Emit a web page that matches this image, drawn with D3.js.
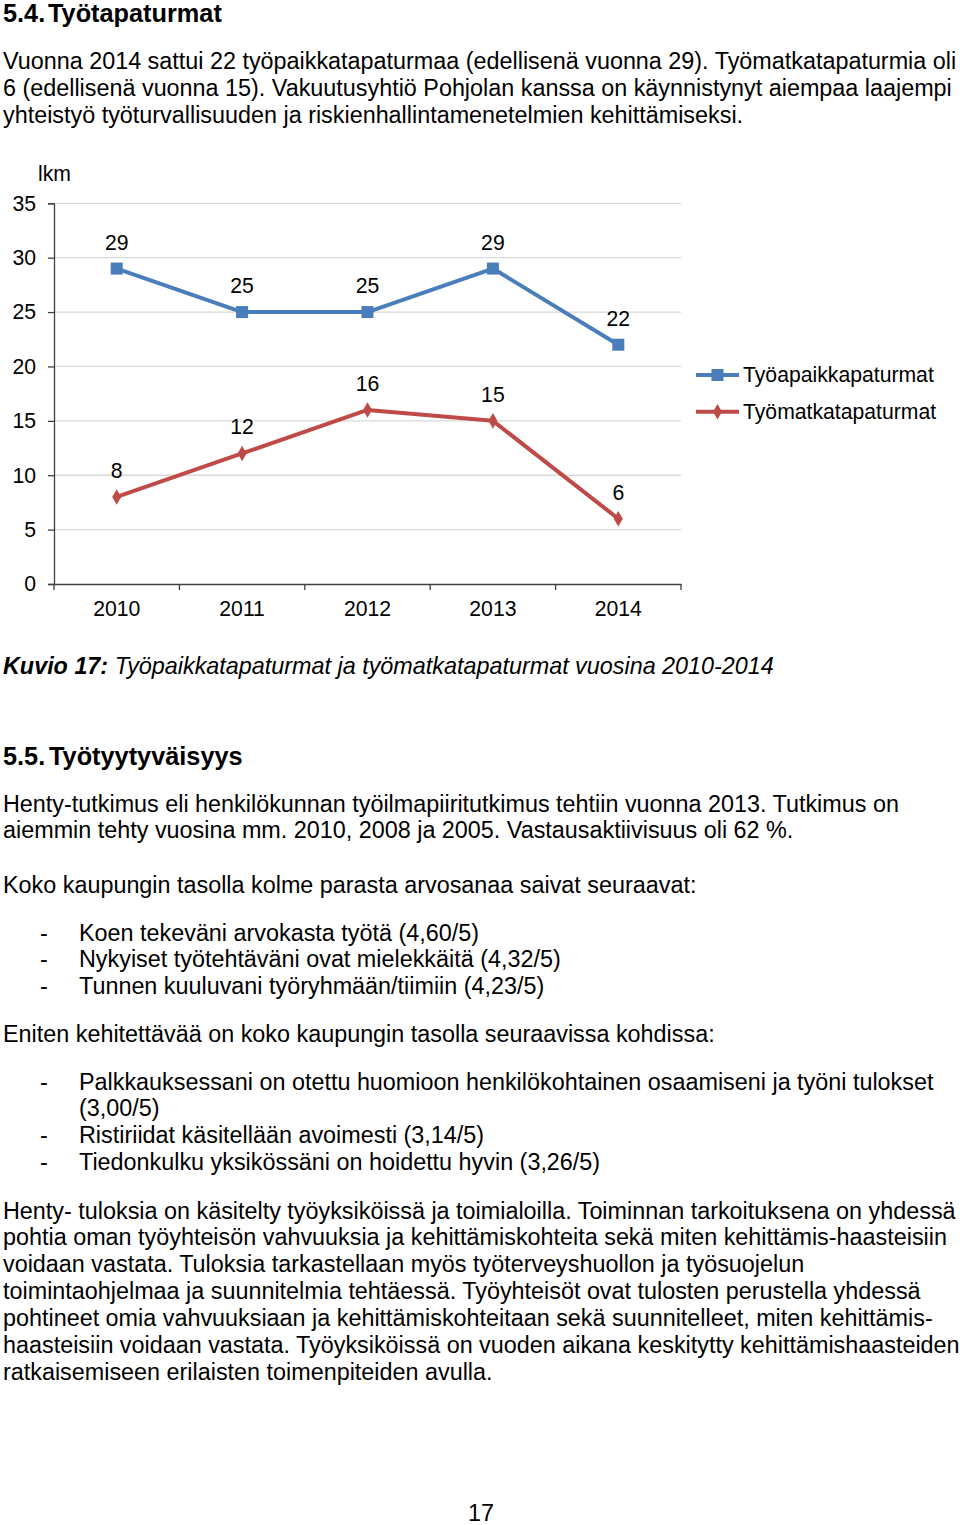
<!DOCTYPE html>
<html>
<head>
<meta charset="utf-8">
<script src="https://cdn.jsdelivr.net/npm/d3@7"></script>
<style>
  html, body { margin: 0; padding: 0; background: #fff; }
  svg { display: block; font-family: "Liberation Sans", Arial, sans-serif; }
</style>
</head>
<body>
<svg id="page" width="960" height="1525"></svg>
<script>
// ---- data ----
const years = ["2010", "2011", "2012", "2013", "2014"];
const workplaceAccidents = [29, 25, 25, 29, 22];   // Työpaikkatapaturmat
const commuteAccidents = [8, 12, 16, 15, 6];        // Työmatkatapaturmat
const yTicks = [0, 5, 10, 15, 20, 25, 30, 35];
const seriesNames = ["Työapaikkapaturmat", "Työmatkatapaturmat"];
const yUnit = "lkm";

// ---- text content ----
const heading1 = ["5.4.", "Työtapaturmat"];
const para1 = [
  "Vuonna 2014 sattui 22 työpaikkatapaturmaa (edellisenä vuonna 29). Työmatkatapaturmia oli",
  "6 (edellisenä vuonna 15). Vakuutusyhtiö Pohjolan kanssa on käynnistynyt aiempaa laajempi",
  "yhteistyö työturvallisuuden ja riskienhallintamenetelmien kehittämiseksi."
];
const captionBold = "Kuvio 17:";
const captionRest = " Työpaikkatapaturmat ja työmatkatapaturmat vuosina 2010-2014";
const heading2 = ["5.5.", "Työtyytyväisyys"];
const para2 = [
  "Henty-tutkimus eli henkilökunnan työilmapiiritutkimus tehtiin vuonna 2013. Tutkimus on",
  "aiemmin tehty vuosina mm. 2010, 2008 ja 2005. Vastausaktiivisuus oli 62 %."
];
const para3 = "Koko kaupungin tasolla kolme parasta arvosanaa saivat seuraavat:";
const list1 = [
  "Koen tekeväni arvokasta työtä (4,60/5)",
  "Nykyiset työtehtäväni ovat mielekkäitä (4,32/5)",
  "Tunnen kuuluvani työryhmään/tiimiin (4,23/5)"
];
const para4 = "Eniten kehitettävää on koko kaupungin tasolla seuraavissa kohdissa:";
const list2 = [
  ["Palkkauksessani on otettu huomioon henkilökohtainen osaamiseni ja työni tulokset", "(3,00/5)"],
  ["Ristiriidat käsitellään avoimesti (3,14/5)"],
  ["Tiedonkulku yksikössäni on hoidettu hyvin (3,26/5)"]
];
const para5 = [
  "Henty- tuloksia on käsitelty työyksiköissä ja toimialoilla. Toiminnan tarkoituksena on yhdessä",
  "pohtia oman työyhteisön vahvuuksia ja kehittämiskohteita sekä miten kehittämis-haasteisiin",
  "voidaan vastata. Tuloksia tarkastellaan myös työterveyshuollon ja työsuojelun",
  "toimintaohjelmaa ja suunnitelmia tehtäessä. Työyhteisöt ovat tulosten perustella yhdessä",
  "pohtineet omia vahvuuksiaan ja kehittämiskohteitaan sekä suunnitelleet, miten kehittämis-",
  "haasteisiin voidaan vastata. Työyksiköissä on vuoden aikana keskitytty kehittämishaasteiden",
  "ratkaisemiseen erilaisten toimenpiteiden avulla."
];
const pageNumber = "17";

// ---- style ----
const BODY = 23.37, HEAD = 25.3, CHART = 21.2, LH = 26.9;
const TXT = "#000";
const BLUE = "#4A7EBB", RED = "#BE4B48";

const svg = d3.select("#page");

function line(txt, x, y, opts = {}) {
  return svg.append("text")
    .attr("x", x).attr("y", y)
    .attr("font-size", opts.size || BODY)
    .attr("font-weight", opts.weight || "normal")
    .attr("font-style", opts.style || "normal")
    .attr("text-anchor", opts.anchor || "start")
    .attr("fill", TXT)
    .text(txt);
}

// heading 5.4
line(heading1[0], 3, 22, { size: HEAD, weight: "bold" });
line(heading1[1], 48, 22, { size: HEAD, weight: "bold" });
para1.forEach((t, i) => line(t, 3, 69 + i * LH));

// ---- chart ----
const x = d3.scaleBand().domain(years).range([54, 681]);
const y = d3.scaleLinear().domain([0, 35]).range([584, 203.3]);
const chart = svg.append("g").attr("font-size", CHART);

// gridlines
chart.append("g").selectAll("line").data(yTicks.filter(d => d > 0)).join("line")
  .attr("x1", 54).attr("x2", 681)
  .attr("y1", d => y(d)).attr("y2", d => y(d))
  .attr("stroke", "#d9d9d9").attr("stroke-width", 1.3);

// y axis
const yAxis = chart.append("g").attr("transform", "translate(54,0)")
  .call(d3.axisLeft(y).tickValues(yTicks).tickSize(6).tickPadding(12).tickFormat(d3.format("d")));
yAxis.select(".domain").attr("stroke", "#404040").attr("stroke-width", 1.3);
yAxis.selectAll(".tick line").attr("stroke", "#404040").attr("stroke-width", 1.3);
yAxis.selectAll(".tick text").attr("font-size", CHART).attr("font-family", "Liberation Sans, Arial, sans-serif").attr("fill", TXT);

// x axis
const xAxis = chart.append("g").attr("transform", "translate(0,584)")
  .call(d3.axisBottom(x).tickSize(0).tickPadding(17));
xAxis.select(".domain").attr("stroke", "#404040").attr("stroke-width", 1.3);
xAxis.selectAll(".tick text").attr("font-size", CHART).attr("font-family", "Liberation Sans, Arial, sans-serif").attr("fill", TXT);
// category boundary ticks
const bounds = years.map(d => x(d)).concat([x(years[years.length - 1]) + x.bandwidth()]);
chart.append("g").selectAll("line").data(bounds).join("line")
  .attr("x1", d => d).attr("x2", d => d).attr("y1", 584).attr("y2", 590)
  .attr("stroke", "#404040").attr("stroke-width", 1.3);

// unit label
chart.append("text").attr("x", 38).attr("y", 181).attr("fill", TXT).text(yUnit);

const cx = d => x(d) + x.bandwidth() / 2;
const lineGen = d3.line().x(d => cx(d.year)).y(d => y(d.v));
const series = [
  { name: seriesNames[0], color: BLUE, shape: "square", values: years.map((yr, i) => ({ year: yr, v: workplaceAccidents[i] })) },
  { name: seriesNames[1], color: RED, shape: "diamond", values: years.map((yr, i) => ({ year: yr, v: commuteAccidents[i] })) }
];

function marker(g, shape, color, px, py) {
  if (shape === "square") {
    g.append("rect").attr("x", px - 6).attr("y", py - 6).attr("width", 12).attr("height", 12).attr("fill", color);
  } else {
    g.append("path").attr("d", d3.symbol(d3.symbolDiamond, 70)()).attr("transform", `translate(${px},${py})`).attr("fill", color);
  }
}

series.forEach(s => {
  const g = chart.append("g");
  g.append("path").datum(s.values).attr("d", lineGen)
    .attr("fill", "none").attr("stroke", s.color).attr("stroke-width", 4).attr("stroke-linejoin", "round");
  s.values.forEach(d => marker(g, s.shape, s.color, cx(d.year), y(d.v)));
  g.selectAll("text.lbl").data(s.values).join("text").attr("class", "lbl")
    .attr("x", d => cx(d.year)).attr("y", d => y(d.v) - 19)
    .attr("text-anchor", "middle").attr("fill", TXT).text(d => d.v);
});

// legend
const legendY = [375, 411.7];
series.forEach((s, i) => {
  const g = chart.append("g");
  g.append("line").attr("x1", 696).attr("x2", 739).attr("y1", legendY[i]).attr("y2", legendY[i])
    .attr("stroke", s.color).attr("stroke-width", 4);
  marker(g, s.shape, s.color, 717.5, legendY[i]);
  g.append("text").attr("x", 743).attr("y", legendY[i]).attr("dy", "0.35em").attr("fill", TXT).text(s.name);
});

// caption
const cap = line("", 3, 674, { style: "italic" });
cap.append("tspan").attr("font-weight", "bold").text(captionBold);
cap.append("tspan").text(captionRest);

// heading 5.5
line(heading2[0], 3, 765, { size: HEAD, weight: "bold" });
line(heading2[1], 49, 765, { size: HEAD, weight: "bold" });
para2.forEach((t, i) => line(t, 3, 811.5 + i * LH));
line(para3, 3, 892.5);
list1.forEach((t, i) => {
  line("-", 40, 940.5 + i * LH);
  line(t, 79, 940.5 + i * LH);
});
line(para4, 3, 1041.5);
let row = 0;
list2.forEach(item => {
  line("-", 40, 1089.5 + row * LH);
  item.forEach(t => { line(t, 79, 1089.5 + row * LH); row++; });
});
para5.forEach((t, i) => line(t, 3, 1218.5 + i * LH));
line(pageNumber, 481, 1521, { anchor: "middle" });
</script>
</body>
</html>
